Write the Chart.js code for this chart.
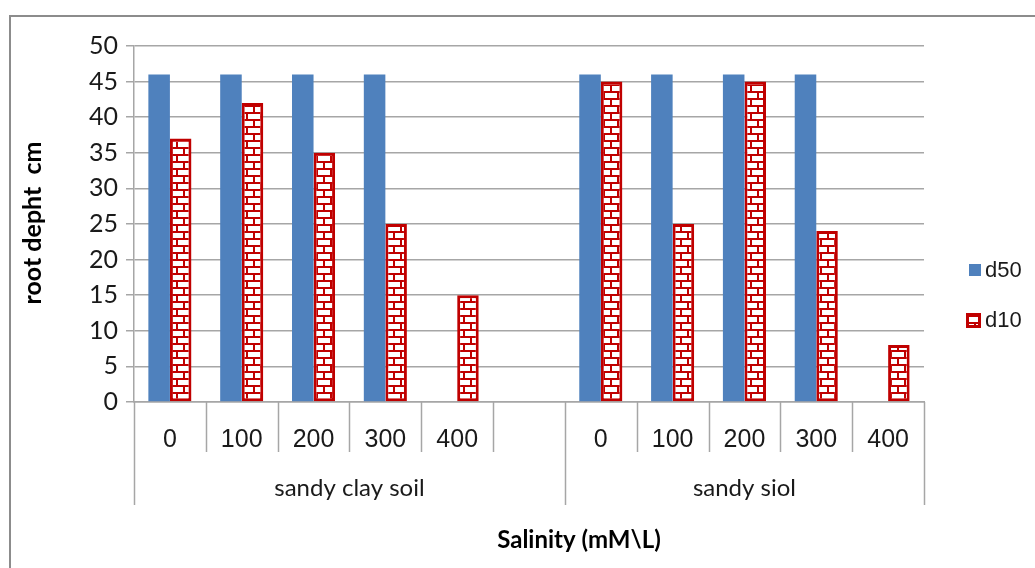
<!DOCTYPE html>
<html>
<head>
<meta charset="utf-8">
<script src="https://cdn.jsdelivr.net/npm/chart.js@4.4.1/dist/chart.umd.min.js"></script>
<style>
  html, body { margin: 0; padding: 0; background: #ffffff; }
  #wrap { width: 1035px; height: 568px; }
</style>
</head>
<body>
<div id="wrap"><canvas id="c" width="1035" height="568"></canvas></div>
<script>
// Salinity levels (mM/L) for each soil, with an empty slot between the two soils
const categories = ['0', '100', '200', '300', '400', '', '0', '100', '200', '300', '400'];
// Soil groups along the lower axis level and how many slots each covers
const groupNames = ['sandy clay soil', 'sandy siol'];
const groupSpans = [6, 5];
// Root depth (cm)
const d50 = [46, 46, 46, 46, null, null, 46, 46, 46, 46, null];
const d10 = [37, 42, 35, 25, 15, null, 45, 25, 45, 24, 8];
const yTicks = [0, 5, 10, 15, 20, 25, 30, 35, 40, 45, 50];

const BLUE = '#4F81BD';
const RED = '#C00000';
const GRID = '#A6A6A6';

// Brick fill for the d10 bars
function brickPattern() {
  const t = document.createElement('canvas');
  t.width = 14; t.height = 14;
  const g = t.getContext('2d');
  g.fillStyle = '#ffffff';
  g.fillRect(0, 0, 14, 14);
  g.fillStyle = RED;
  g.fillRect(0, 0, 14, 2);
  g.fillRect(0, 7, 14, 2);
  g.fillRect(8, 0, 2, 7);
  g.fillRect(1, 7, 2, 7);
  return document.getElementById('c').getContext('2d').createPattern(t, 'repeat');
}
const bricks = brickPattern();

// Separators, group names, axis titles, legend and frame
const decorations = {
  id: 'decorations',
  afterDraw(chart) {
    const ctx = chart.ctx;
    const x = chart.scales.x;
    const area = chart.chartArea;
    const step = x.getPixelForValue(1) - x.getPixelForValue(0);
    ctx.save();

    // category separators below the axis
    ctx.strokeStyle = GRID;
    ctx.lineWidth = 1.5;
    const groupEdges = [0];
    groupSpans.forEach(s => groupEdges.push(groupEdges[groupEdges.length - 1] + s));
    for (let i = 0; i <= categories.length; i++) {
      const px = Math.round(x.getPixelForValue(i) - step / 2) + 0.5;
      const isGroupEdge = groupEdges.includes(i);
      ctx.beginPath();
      ctx.moveTo(px, area.bottom);
      ctx.lineTo(px, area.bottom + (isGroupEdge ? 103 : 50));
      ctx.stroke();
    }

    // soil group names
    ctx.fillStyle = '#1a1a1a';
    ctx.font = '24px Lato';
    ctx.textAlign = 'center';
    ctx.textBaseline = 'middle';
    groupNames.forEach((name, gi) => {
      const a = x.getPixelForValue(groupEdges[gi]) - step / 2;
      const b = x.getPixelForValue(groupEdges[gi + 1] - 1) + step / 2;
      ctx.fillText(name, (a + b) / 2, 488);
    });

    // axis titles
    ctx.fillStyle = '#000000';
    ctx.font = 'bold 24px Lato';
    ctx.fillText('Salinity (mM\\L)', 579, 540);
    ctx.save();
    ctx.translate(33, 223);
    ctx.rotate(-Math.PI / 2);
    ctx.font = 'bold 25px Lato';
    ctx.fillText('root depht  cm', 0, 0);
    ctx.restore();

    // legend
    ctx.textAlign = 'left';
    ctx.font = '22px "Liberation Sans"';
    ctx.fillStyle = BLUE;
    ctx.fillRect(969, 264, 12, 12);
    ctx.fillStyle = '#1a1a1a';
    ctx.fillText('d50', 985, 271);
    ctx.fillStyle = bricks;
    ctx.fillRect(966, 313, 15, 15);
    ctx.strokeStyle = RED;
    ctx.lineWidth = 3;
    ctx.strokeRect(967.5, 314.5, 12, 12);
    ctx.fillStyle = '#1a1a1a';
    ctx.fillText('d10', 985, 321);

    // outer frame
    ctx.strokeStyle = '#8C8C8C';
    ctx.lineWidth = 2;
    ctx.beginPath();
    ctx.moveTo(10, 600);
    ctx.lineTo(10, 16);
    ctx.lineTo(1040, 16);
    ctx.stroke();

    ctx.restore();
  }
};

new Chart(document.getElementById('c'), {
  type: 'bar',
  data: {
    labels: categories,
    datasets: [
      {
        label: 'd50',
        data: d50,
        backgroundColor: BLUE,
        borderWidth: 0
      },
      {
        label: 'd10',
        data: d10,
        backgroundColor: bricks,
        borderColor: RED,
        borderWidth: 3,
        borderSkipped: false
      }
    ]
  },
  options: {
    responsive: false,
    animation: false,
    layout: { padding: { top: 46, right: 111, bottom: 0, left: 0 } },
    datasets: { bar: { categoryPercentage: 0.6, barPercentage: 1.0 } },
    plugins: {
      legend: { display: false },
      tooltip: { enabled: false }
    },
    scales: {
      x: {
        afterFit(scale) { scale.height = 166; },
        grid: { display: false },
        border: { display: true, color: GRID, width: 1.5 },
        ticks: {
          padding: 15,
          color: '#1a1a1a',
          font: { family: 'Liberation Sans', size: 25 },
          maxRotation: 0,
          autoSkip: false
        }
      },
      y: {
        min: 0,
        max: 50,
        afterFit(scale) { scale.width = 134; },
        afterBuildTicks(scale) { scale.ticks = yTicks.map(v => ({ value: v })); },
        grid: { color: GRID, lineWidth: 1.5, tickLength: 8 },
        border: { display: true, color: GRID, width: 1.5 },
        ticks: {
          padding: 8,
          color: '#1a1a1a',
          font: { family: 'Lato', size: 25 }
        }
      }
    }
  },
  plugins: [decorations]
});
</script>
</body>
</html>
